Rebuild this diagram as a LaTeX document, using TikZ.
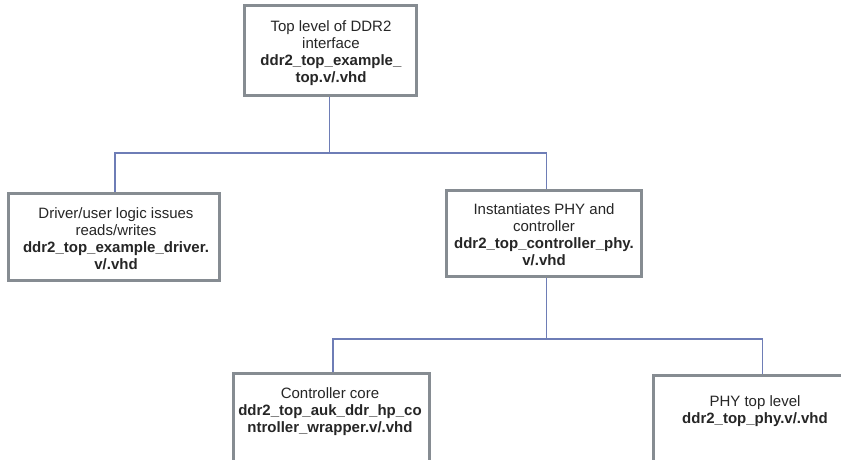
\documentclass[tikz,border=0pt]{standalone}
\usepackage{fontspec}
\setmainfont{Liberation Sans}
\definecolor{boxgray}{HTML}{868C92}
\definecolor{wirec}{HTML}{6E7DB6}
\begin{document}
\begin{tikzpicture}[x=1pt,y=-1pt,
  box/.style={draw=boxgray, line width=2.6pt, fill=white, inner sep=0pt},
  txt/.style={align=center, font=\fontsize{15}{17}\selectfont, inner sep=0pt, text=black!85},
  wire/.style={draw=wirec, line width=1.2pt}]
\clip (0,0) rectangle (841,459);
\fill[white] (0,0) rectangle (841,459);

% module boxes
\node[box, minimum width=172.4pt, minimum height=90.4pt] (top) at (330.5,50.5) {};
\node[box, minimum width=211.4pt, minimum height=87.4pt] (drv) at (114,237) {};
\node[box, minimum width=195.4pt, minimum height=86.4pt] (ctlphy) at (544,233.5) {};
\node[box, minimum width=196.4pt, minimum height=100pt, anchor=north] (core) at (331.5,372.3) {};
\node[box, minimum width=218.7pt, minimum height=100pt, anchor=north] (phy) at (762.6,374.3) {};

% hierarchy connectors
\coordinate (j1) at (329.5,153);
\coordinate (j2) at (546.5,339);
\draw[wire] ([xshift=-1pt]top.south) -- (j1);
\draw[wire] ([xshift=1pt]drv.north) |- (j1) -| ([xshift=2.5pt]ctlphy.north);
\draw[wire] ([xshift=2.5pt]ctlphy.south) -- (j2);
\draw[wire] ([xshift=1.5pt]core.north) |- (j2) -| (phy.north);

% box labels
\node[txt] (toptxt) at (331,53.5) {Top level of DDR2\\interface\\\textbf{ddr2\_top\_example\_}\\\textbf{top.v/.vhd}};
\node[txt] (drvtxt) at (116,238.5) {Driver/user logic issues\\reads/writes\\\textbf{ddr2\_top\_example\_driver.}\\\textbf{v/.vhd}};
\node[txt] (ctlphytxt) at (544,234.5) {Instantiates PHY and\\controller\\\textbf{ddr2\_top\_controller\_phy.}\\\textbf{v/.vhd}};
\node[txt] (coretxt) at (330,412) {Controller core\\\textbf{ddr2\_top\_auk\_ddr\_hp\_co}\\\textbf{ntroller\_wrapper.v/.vhd}};
\node[txt] (phytxt) at (755,411) {PHY top level\\\textbf{ddr2\_top\_phy.v/.vhd}};
\end{tikzpicture}
\end{document}
